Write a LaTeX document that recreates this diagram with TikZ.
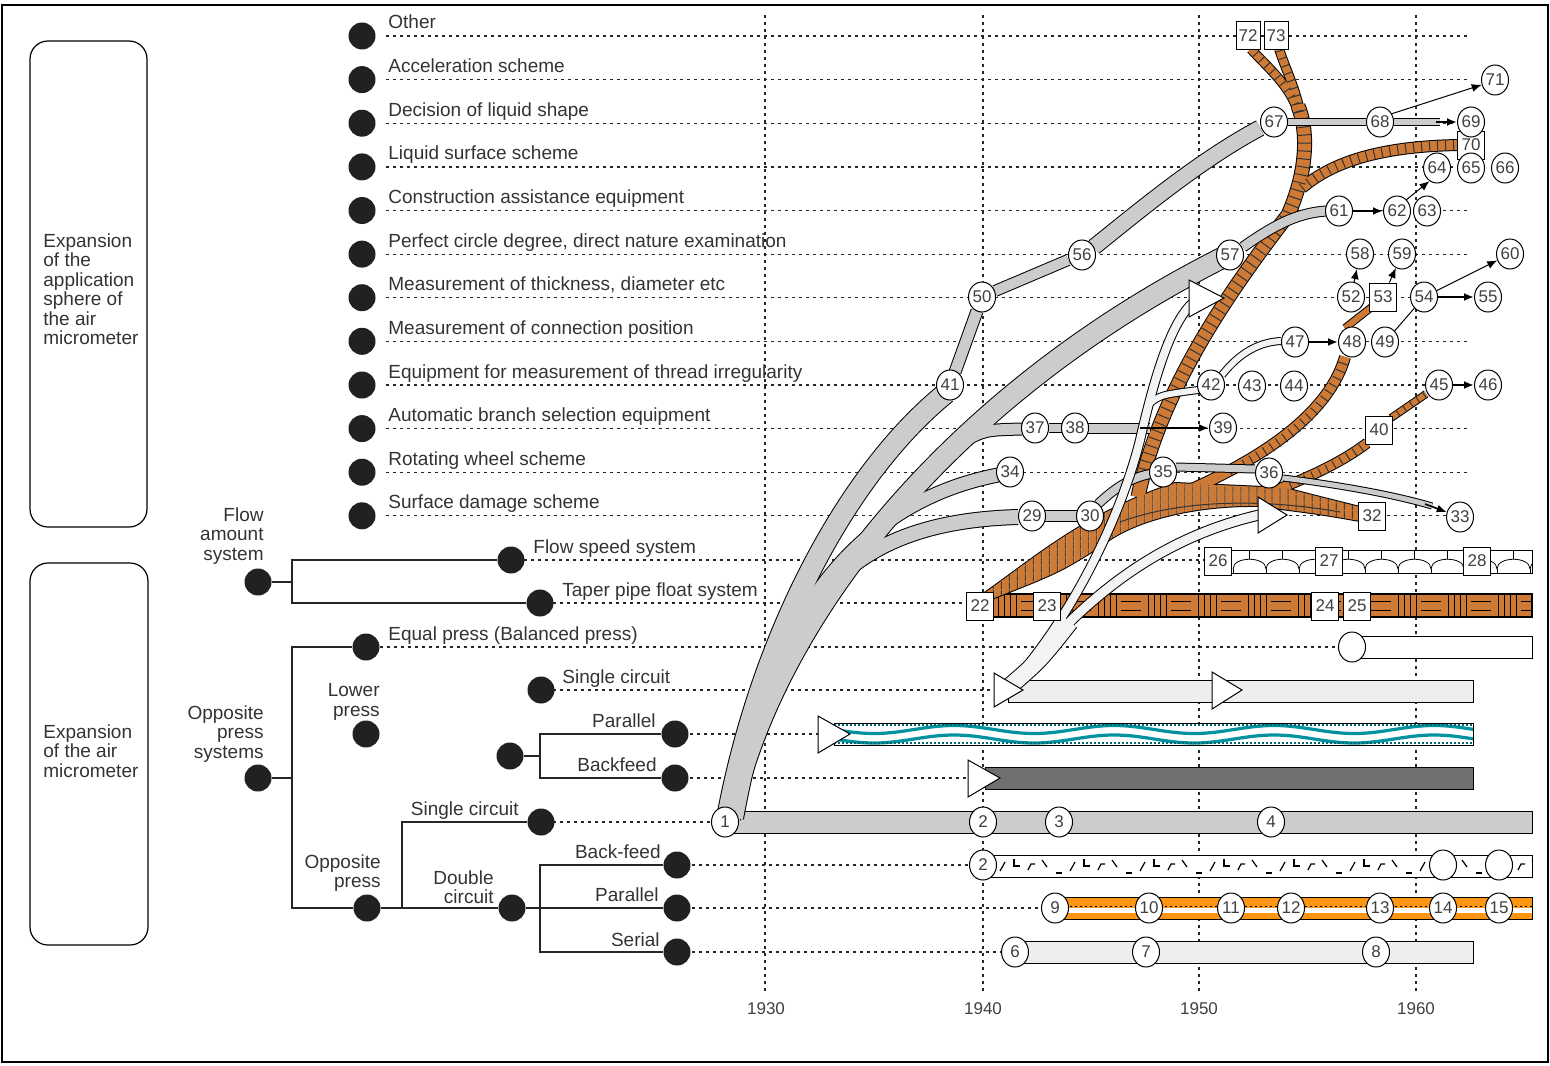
\documentclass[tikz,border=0pt]{standalone}
\usepackage{fontspec}
\setmainfont{Liberation Sans}
\usetikzlibrary{arrows.meta,shapes.geometric,patterns.meta}
\definecolor{gband}{RGB}{204,204,204}
\definecolor{wband}{RGB}{243,243,243}
\definecolor{brownc}{RGB}{204,122,54}
\definecolor{tealc}{RGB}{0,146,158}
\definecolor{orangec}{RGB}{250,150,20}
\definecolor{darkbar}{RGB}{112,112,112}
\definecolor{lbar}{RGB}{238,238,238}
\definecolor{gridc}{RGB}{30,42,42}
\begin{document}
\begin{tikzpicture}[x=0.5pt,y=-0.5pt,
  lab/.style={inner sep=0pt,font=\fontsize{9.5}{9.75}\selectfont,text=black!80},
  num/.style={ellipse,draw,line width=0.5pt,fill=white,inner sep=0pt,minimum width=13.5pt,minimum height=15pt,font=\fontsize{8.5}{9}\selectfont,text=black!75},
  sq/.style={rectangle,draw,line width=0.5pt,fill=white,inner sep=0pt,minimum width=13.5pt,minimum height=14pt,font=\fontsize{8.5}{9}\selectfont,text=black!75},
  bdot/.style={circle,fill=black!87,inner sep=0pt,minimum size=13.5pt},
  rowline/.style={draw=gridc,line width=0.6pt,dash pattern=on 1.5pt off 2pt},
  tree/.style={line width=0.6pt,draw=black!85},
  bar/.style={draw,line width=0.5pt},
  tri/.style={draw,fill=white,line width=0.5pt},
  outl/.style={draw=black,line width=#1+1pt},
  gin/.style={draw=gband,line width=#1},
  win/.style={draw=wband,line width=#1},
  bin/.style={draw=brownc,line width=#1},
  bhatch/.style={draw=black!80,line width=#1,dash pattern=on 0.5pt off 3.5pt},
  arr/.style={-{Latex[length=5pt,width=4pt]},line width=0.5pt},
  mk/.style={line width=0.6pt},
  year/.style={font=\fontsize{8.5}{9}\selectfont,text=black!75},
]
\useasboundingbox (0,0) rectangle (1550,1065);
\draw[line width=1pt] (2,5) rectangle (1548,1062);

% year grid
\foreach \x in {765,983,1199,1416} \draw[rowline] (\x,15) -- (\x,993);
\node[year] (y1930) at (766,1009) {1930};
\node[year] (y1940) at (983,1009) {1940};
\node[year] (y1950) at (1199,1009) {1950};
\node[year] (y1960) at (1416,1009) {1960};

% application rows
\foreach \yy/\txt [count=\k] in {
  36/Other,
  79.6/Acceleration scheme,
  123.2/Decision of liquid shape,
  166.9/Liquid surface scheme,
  210.5/Construction assistance equipment,
  254.1/{Perfect circle degree, direct nature examination},
  297.7/{Measurement of thickness, diameter etc},
  341.3/Measurement of connection position,
  385/Equipment for measurement of thread irregularity,
  428.6/Automatic branch selection equipment,
  472.2/Rotating wheel scheme,
  515.8/Surface damage scheme} {
  \draw[rowline] (386,\yy) -- (1468,\yy);
  \node[bdot] (td\k) at (362,\yy) {};
  \node[lab,anchor=base west] (tl\k) at (388,\yy-7) {\txt};
}

% system rows
\foreach \yy/\xs in {560/524,603/553,647/380,690/553,734/690,778/690,822/553,865/692,908/692,952/692}
  \draw[rowline] (\xs,\yy) -- (1468,\yy);

% left grouping boxes
\node[draw,rounded corners=9pt,line width=0.6pt,minimum width=58.5pt,minimum height=243pt,inner sep=0pt] (boxtop) at (88.5,284) {};
\node[lab,anchor=west,align=left] (txttop) at (43,289) {Expansion\\of the\\application\\sphere of\\the air\\micrometer};
\node[draw,rounded corners=9pt,line width=0.6pt,minimum width=59pt,minimum height=191pt,inner sep=0pt] (boxbot) at (89,754) {};
\node[lab,anchor=west,align=left] (txtbot) at (43,751) {Expansion\\of the air\\micrometer};

% tree texts
\node[lab,anchor=east,align=right] (tflow) at (264,536) {Flow\\amount\\system};
\node[lab,anchor=east,align=right] (topps) at (264,734) {Opposite\\press\\systems};
\node[lab,anchor=east,align=right] (tlow) at (380,702) {Lower\\press};
\node[lab,anchor=east,align=right] (topp) at (381,873) {Opposite\\press};
\node[lab,anchor=east,align=right] (tdbl) at (494,887) {Double\\circuit};

% tree dots
\node[bdot] (dflow) at (258,582) {};
\node[bdot] (dfs) at (511,560) {};
\node[bdot] (dtp) at (540,603) {};
\node[bdot] (dopps) at (258,778) {};
\node[bdot] (deq) at (366,647) {};
\node[bdot] (dlow) at (366,734) {};
\node[bdot] (dsc1) at (541,690) {};
\node[bdot] (dpb) at (510,756) {};
\node[bdot] (dpar1) at (675,734) {};
\node[bdot] (dbf1) at (675,778) {};
\node[bdot] (dop) at (367,908) {};
\node[bdot] (dsc2) at (541,822) {};
\node[bdot] (ddc) at (512,908) {};
\node[bdot] (dbf2) at (677,865) {};
\node[bdot] (dpar2) at (677,908) {};
\node[bdot] (dser) at (677,952) {};

% tree lines
\draw[tree] (dflow) -- (292,582);
\draw[tree] (dfs) -- (292,560) -- (292,603) -- (dtp);
\draw[tree] (dopps) -- (292,778);
\draw[tree] (deq) -- (292,647) -- (292,908) -- (dop);
\draw[tree] (dpb) -- (540,756);
\draw[tree] (dpar1) -- (540,734) -- (540,778) -- (dbf1);
\draw[tree] (dop) -- (ddc);
\draw[tree] (dsc2) -- (402,822) -- (402,908);
\draw[tree] (ddc) -- (540,908);
\draw[tree] (dbf2) -- (540,865) -- (540,952) -- (dser);
\draw[tree] (dpar2) -- (540,908);

% tree labels
\node[lab,anchor=base west] (lfs) at (533,553) {Flow speed system};
\node[lab,anchor=base west] (ltp) at (562,596) {Taper pipe float system};
\node[lab,anchor=base west] (leq) at (388,640) {Equal press (Balanced press)};
\node[lab,anchor=base west] (lsc1) at (562,683) {Single circuit};
\node[lab,anchor=base east] (lpar1) at (656,727) {Parallel};
\node[lab,anchor=base east] (lbf1) at (657,771) {Backfeed};
\node[lab,anchor=base east] (lsc2) at (519,815) {Single circuit};
\node[lab,anchor=base east] (lbf2) at (661,858) {Back-feed};
\node[lab,anchor=base east] (lpar2) at (659,901) {Parallel};
\node[lab,anchor=base east] (lser) at (660,946) {Serial};

% ---- bars ----
% flow speed: scalloped bar
\draw[bar,fill=white] (1205,550) rectangle (1532,573);
\begin{scope}
  \clip (1205,550) rectangle (1532,573);
  \foreach \a in {1233,1266,...,1530} {
    \draw[line width=0.4pt] (\a,569) .. controls (\a,556) and (\a+33,556) .. (\a+33,569);
    \draw[line width=0.4pt] (\a,569) -- (\a,573);
    \draw[line width=0.4pt] (\a+16.5,550) -- (\a+16.5,559);
  }
\end{scope}
% taper pipe float: brick bar
\fill[brownc] (980,594) rectangle (1532,617);
\begin{scope}
  \clip (980,594) rectangle (1532,617);
  \foreach \b in {994,1044,...,1494} {
    \draw[line width=0.5pt] (\b+4,595) -- (\b+4,616) (\b+10,595) -- (\b+10,616)
      (\b+16,595) -- (\b+16,616) (\b+22,595) -- (\b+22,616);
    \draw[line width=0.5pt] (\b+27,601) -- (\b+47,601) (\b+27,610) -- (\b+47,610);
  }
\end{scope}
\draw[line width=0.6pt] (980,594) rectangle (1532,617);
% equal press
\draw[bar,fill=white] (1352,636) rectangle (1532,658);
% lower press single circuit
\draw[bar,fill=lbar] (1008,680) rectangle (1473,702);
% lower press parallel: wave bar
\draw[bar,fill=white] (834,723) rectangle (1473,745);
\begin{scope}
  \clip (834,723) rectangle (1473,745);
  \draw[tealc,line width=1.6pt] plot[domain=834:1473,samples=160,smooth] (\x,{729.5+4*sin(2.25*(\x-834))});
  \draw[tealc,line width=1.6pt] plot[domain=834:1473,samples=160,smooth] (\x,{739+4*sin(2.25*(\x-834))});
  \draw[tealc!70!black,line width=0.6pt,dash pattern=on 1pt off 1pt] (834,725) -- (1473,725) (834,743) -- (1473,743);
\end{scope}
\draw[bar] (834,723) rectangle (1473,745);
% lower press backfeed
\draw[bar,fill=darkbar] (985,767) rectangle (1473,789);
% opposite press single circuit
\draw[bar,fill=gband] (726,811) rectangle (1532,833);
% back-feed: marked bar
\draw[bar,fill=white] (983,855) rectangle (1532,877);
\begin{scope}
  \clip (983,855) rectangle (1532,877);
  \foreach \m in {0,...,38} {
    \pgfmathtruncatemacro{\t}{mod(\m,5)}
    \pgfmathsetmacro{\xx}{1000+14*\m}
    \ifcase\t
      \draw[mk] (\xx,871) -- (\xx+5,862);
    \or
      \draw[mk] (\xx,859) -- (\xx,866) -- (\xx+6,866);
    \or
      \draw[mk] (\xx,870) -- (\xx+3,864) -- (\xx+7,864);
    \or
      \draw[mk] (\xx,860) -- (\xx+5,867);
    \or
      \draw[mk] (\xx,873) -- (\xx+6,873);
    \fi
  }
\end{scope}
% double circuit parallel: striped bar
\fill[orangec] (1055,897) rectangle (1532,919);
\fill[white] (1055,908) rectangle (1532,913);
\draw[line width=0.6pt,dash pattern=on 1pt off 1.5pt] (1055,906.5) -- (1532,906.5);
\draw[bar] (1055,897) rectangle (1532,919);
% serial
\draw[bar,fill=lbar] (1015,941) rectangle (1473,963);

% ---- brown development lines ----
\draw[line width=1pt] (980,596) .. controls (1030,562) and (1080,515) .. (1175,483) -- (1285,488) .. controls (1320,497) .. (1360,507) -- (1360,521) .. controls (1320,514) .. (1258,506) .. controls (1190,505) and (1130,522) .. (1101,546) .. controls (1060,572) .. (984,602) -- cycle;
\draw[outl=6.5pt] (1138,497) .. controls (1160,390) and (1230,290) .. (1288,215) .. controls (1308,170) and (1308,130) .. (1298,106);
\draw[outl=4pt] (1298,112) .. controls (1290,85) and (1265,65) .. (1251,49);
\draw[outl=4pt] (1300,112) .. controls (1296,90) and (1286,70) .. (1279,49);
\draw[outl=5pt] (1302,188) .. controls (1340,155) and (1400,146) .. (1459,145);
\draw[outl=5pt] (1185,492) .. controls (1270,455) and (1330,410) .. (1345,357);
\draw[outl=3pt] (1345,328) -- (1373,306);
\draw[outl=4.5pt] (1262,495) .. controls (1310,478) and (1345,460) .. (1367,443);
\draw[outl=3pt] (1391,418) -- (1426,394);

\fill[brownc] (980,596) .. controls (1030,562) and (1080,515) .. (1175,483) -- (1285,488) .. controls (1320,497) .. (1360,507) -- (1360,521) .. controls (1320,514) .. (1258,506) .. controls (1190,505) and (1130,522) .. (1101,546) .. controls (1060,572) .. (984,602) -- cycle;
\draw[bin=6.5pt] (1138,497) .. controls (1160,390) and (1230,290) .. (1288,215) .. controls (1308,170) and (1308,130) .. (1298,106);
\draw[bin=4pt] (1298,112) .. controls (1290,85) and (1265,65) .. (1251,49);
\draw[bin=4pt] (1300,112) .. controls (1296,90) and (1286,70) .. (1279,49);
\draw[bin=5pt] (1302,188) .. controls (1340,155) and (1400,146) .. (1459,145);
\draw[bin=5pt] (1185,492) .. controls (1270,455) and (1330,410) .. (1345,357);
\draw[bin=3pt] (1345,328) -- (1373,306);
\draw[bin=4.5pt] (1262,495) .. controls (1310,478) and (1345,460) .. (1367,443);
\draw[bin=3pt] (1391,418) -- (1426,394);

\path[pattern={Lines[angle=90,distance=4pt,line width=0.5pt]},pattern color=black!80] (980,596) .. controls (1030,562) and (1080,515) .. (1175,483) -- (1285,488) .. controls (1320,497) .. (1360,507) -- (1360,521) .. controls (1320,514) .. (1258,506) .. controls (1190,505) and (1130,522) .. (1101,546) .. controls (1060,572) .. (984,602) -- cycle;
\draw[line width=0.5pt,black!80] (1120,522) .. controls (1180,500) and (1260,498) .. (1340,512);
\draw[bhatch=6.5pt] (1145,470) .. controls (1170,380) and (1230,290) .. (1288,215) .. controls (1308,170) and (1308,130) .. (1298,106);
\draw[bhatch=4pt] (1298,112) .. controls (1290,85) and (1265,65) .. (1251,49);
\draw[bhatch=4pt] (1300,112) .. controls (1296,90) and (1286,70) .. (1279,49);
\draw[bhatch=5pt] (1302,188) .. controls (1340,155) and (1400,146) .. (1459,145);
\draw[bhatch=5pt] (1230,472) .. controls (1290,440) and (1332,405) .. (1345,357);
\draw[bhatch=4.5pt] (1290,485) .. controls (1320,474) and (1345,460) .. (1367,443);
\draw[bhatch=3pt] (1391,418) -- (1426,394);

% ---- grey development lines ----
\draw[outl=10pt] (727,818) .. controls (760,640) and (845,475) .. (946,393);
\draw[outl=10pt] (730,818) .. controls (775,610) and (960,390) .. (1222,258);
\draw[outl=6.5pt] (733,818) .. controls (770,600) and (870,500) .. (998,475);
\draw[outl=7pt] (736,818) .. controls (775,610) and (840,522) .. (1018,517);
\draw[outl=5.5pt] (962,442) .. controls (985,430) .. (1022,429);
\draw[outl=4pt] (1049,428) -- (1062,428);
\draw[outl=4.5pt] (1088,428) -- (1150,428);
\draw[outl=5pt] (1045,516) -- (1078,516);
\draw[outl=4pt] (1098,504) .. controls (1115,488) and (1130,478) .. (1150,474);
\draw[outl=3.5pt] (1176,467) -- (1255,469);
\draw[outl=2.5pt] (1283,478) .. controls (1340,485) and (1395,495) .. (1432,506);
\draw[outl=5.5pt] (955,372) -- (977,311);
\draw[outl=5pt] (995,291) -- (1068,260);
\draw[outl=7.5pt] (1094,247) .. controls (1140,210) and (1200,160) .. (1260,128);
\draw[outl=4.5pt] (1243,247) .. controls (1270,228) and (1295,213) .. (1326,211);

\draw[gin=10pt] (727,818) .. controls (760,640) and (845,475) .. (946,393);
\draw[gin=10pt] (730,818) .. controls (775,610) and (960,390) .. (1222,258);
\draw[gin=6.5pt] (733,818) .. controls (770,600) and (870,500) .. (998,475);
\draw[gin=7pt] (736,818) .. controls (775,610) and (840,522) .. (1018,517);
\draw[gin=5.5pt] (962,442) .. controls (985,430) .. (1022,429);
\draw[gin=4pt] (1049,428) -- (1062,428);
\draw[gin=4.5pt] (1088,428) -- (1150,428);
\draw[gin=5pt] (1045,516) -- (1078,516);
\draw[gin=4pt] (1098,504) .. controls (1115,488) and (1130,478) .. (1150,474);
\draw[gin=3.5pt] (1176,467) -- (1255,469);
\draw[gin=2.5pt] (1283,478) .. controls (1340,485) and (1395,495) .. (1432,506);
\draw[gin=5.5pt] (955,372) -- (977,311);
\draw[gin=5pt] (995,291) -- (1068,260);
\draw[gin=7.5pt] (1094,247) .. controls (1140,210) and (1200,160) .. (1260,128);
\draw[gin=4.5pt] (1243,247) .. controls (1270,228) and (1295,213) .. (1326,211);

% ---- light development lines ----
\draw[outl=8pt] (1010,686) .. controls (1040,660) .. (1070,622);
\draw[outl=4pt] (1010,686) .. controls (1070,620) and (1120,520) .. (1140,440) .. controls (1155,375) and (1172,318) .. (1196,300);
\draw[outl=4.5pt] (1010,686) .. controls (1060,630) and (1130,545) .. (1259,515);
\draw[outl=3pt] (1148,405) .. controls (1160,395) .. (1198,390);
\draw[outl=3pt] (1222,375) .. controls (1240,352) and (1260,342) .. (1281,341);
\draw[outl=3pt] (1288,122) -- (1366,122);
\draw[outl=3pt] (1394,122) -- (1440,122);

\draw[win=8pt] (1010,686) .. controls (1040,660) .. (1070,622);
\draw[win=4pt] (1010,686) .. controls (1070,620) and (1120,520) .. (1140,440) .. controls (1155,375) and (1172,318) .. (1196,300);
\draw[win=4.5pt] (1010,686) .. controls (1060,630) and (1130,545) .. (1259,515);
\draw[win=3pt] (1148,405) .. controls (1160,395) .. (1198,390);
\draw[win=3pt] (1222,375) .. controls (1240,352) and (1260,342) .. (1281,341);
\draw[gin=3pt] (1288,122) -- (1366,122);
\draw[gin=3pt] (1394,122) -- (1440,122);

% ---- numbered stages ----
\node[num] (n1) at (725,822) {1};
\node[num] (n2a) at (983,822) {2};
\node[num] (n3) at (1059,822) {3};
\node[num] (n4) at (1271,822) {4};
\node[num] (n2b) at (983,865) {2};
\node[num] (e1) at (1443,865) {};
\node[num] (e2) at (1499,865) {};
\node[num] (n6) at (1015,952) {6};
\node[num] (n7) at (1146,952) {7};
\node[num] (n8) at (1376,952) {8};
\node[num] (n9) at (1055,908) {9};
\node[num] (n10) at (1149,908) {10};
\node[num] (n11) at (1231,908) {11};
\node[num] (n12) at (1291,908) {12};
\node[num] (n13) at (1380,908) {13};
\node[num] (n14) at (1443,908) {14};
\node[num] (n15) at (1499,908) {15};
\node[num] (e0) at (1352,647) {};
\node[sq] (n22) at (980,606) {22};
\node[sq] (n23) at (1047,606) {23};
\node[sq] (n24) at (1325,606) {24};
\node[sq] (n25) at (1357,606) {25};
\node[sq] (n26) at (1218,561) {26};
\node[sq] (n27) at (1329,561) {27};
\node[sq] (n28) at (1477,561) {28};
\node[num] (n29) at (1032,516) {29};
\node[num] (n30) at (1090,516) {30};
\node[sq] (n32) at (1372,516) {32};
\node[num] (n33) at (1460,517) {33};
\node[num] (n34) at (1010,472) {34};
\node[num] (n35) at (1163,472) {35};
\node[num] (n36) at (1269,473) {36};
\node[num] (n37) at (1035,428) {37};
\node[num] (n38) at (1075,428) {38};
\node[num] (n39) at (1223,428) {39};
\node[sq] (n40) at (1379,430) {40};
\node[num] (n41) at (950,385) {41};
\node[num] (n42) at (1211,385) {42};
\node[num] (n43) at (1252,386) {43};
\node[num] (n44) at (1294,386) {44};
\node[num] (n45) at (1439,385) {45};
\node[num] (n46) at (1488,385) {46};
\node[num] (n47) at (1295,342) {47};
\node[num] (n48) at (1352,342) {48};
\node[num] (n49) at (1385,342) {49};
\node[num] (n50) at (982,297) {50};
\node[num] (n52) at (1351,297) {52};
\node[sq] (n53) at (1383,297) {53};
\node[num] (n54) at (1424,297) {54};
\node[num] (n55) at (1488,297) {55};
\node[num] (n56) at (1082,255) {56};
\node[num] (n57) at (1230,255) {57};
\node[num] (n58) at (1360,254) {58};
\node[num] (n59) at (1402,254) {59};
\node[num] (n60) at (1510,254) {60};
\node[num] (n61) at (1339,211) {61};
\node[num] (n62) at (1397,211) {62};
\node[num] (n63) at (1427,211) {63};
\node[sq] (n70) at (1471,145) {70};
\node[num] (n64) at (1437,168) {64};
\node[num] (n65) at (1471,168) {65};
\node[num] (n66) at (1505,168) {66};
\node[num] (n67) at (1274,122) {67};
\node[num] (n68) at (1380,122) {68};
\node[num] (n69) at (1471,122) {69};
\node[num] (n71) at (1495,80) {71};
\node[sq,minimum width=12pt] (n72) at (1248,36) {72};
\node[sq,minimum width=12pt] (n73) at (1276,36) {73};

% ---- arrows between stages ----
\draw[arr] (n68.35) -- (n71.200);
\draw[arr,line width=1pt] (1436,122) -- (n69);
\draw[arr,line width=1.2pt] (n61) -- (n62);
\draw[arr] (n62.50) -- (n64.240);
\draw[arr] (n52) -- (n58);
\draw[arr] (n53) -- (n59);
\draw[arr] (n54) -- (n60);
\draw[arr,line width=1pt] (n54) -- (n55);
\draw[line width=0.5pt] (n49) -- (n54);
\draw[arr,line width=1pt] (n47) -- (n48);
\draw[arr,line width=1pt] (n45) -- (n46);
\draw[arr,line width=1pt] (1140,428) -- (n39);
\draw[arr,line width=0.8pt] (1425,504) -- (n33);

% ---- start markers ----
\draw[tri] (994,673) -- (1023,690) -- (994,707) -- cycle;
\draw[tri] (1212,672) -- (1242,690) -- (1212,709) -- cycle;
\draw[tri] (818,716) -- (850,734) -- (818,753) -- cycle;
\draw[tri] (968,760) -- (1000,778) -- (968,797) -- cycle;
\draw[tri] (1189,280) -- (1224,298) -- (1189,317) -- cycle;
\draw[tri] (1258,497) -- (1287,515) -- (1258,533) -- cycle;
\end{tikzpicture}
\end{document}
